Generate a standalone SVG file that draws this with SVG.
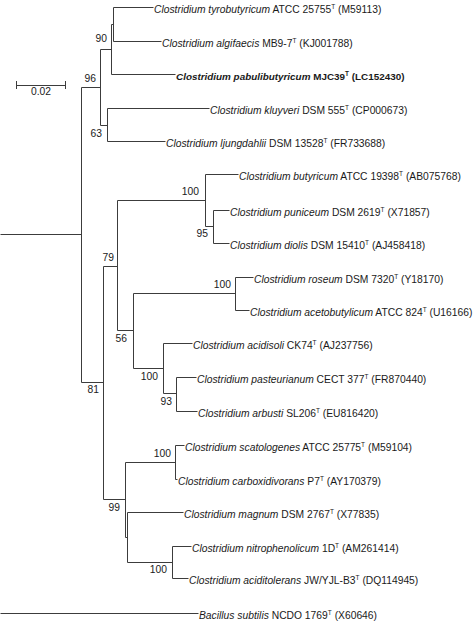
<svg xmlns="http://www.w3.org/2000/svg" width="474" height="621" viewBox="0 0 474 621">
<style>
  .br { fill: none; stroke: #3c3c3c; stroke-width: 1; }
  .lf { font-family: "Liberation Sans", Arial, sans-serif; font-size: 10.3px; fill: #1a1a1a; }
  .sp { font-style: italic; }
  .bold { font-weight: bold; font-size: 9.9px; }
  .bs { font-family: "Liberation Sans", Arial, sans-serif; font-size: 10.3px; fill: #1a1a1a; text-anchor: end; }
  .sup { font-size: 6.5px; }
</style>
<rect width="474" height="621" fill="#ffffff"/>
<g id="connectors" class="br" transform="translate(0.5,0.5)">
  <path d="M0 234H81M0 613H198"/>
  <path d="M81 87V382M81 87H100M100 49V125M100 49H111M111 24V74M111 24H113M113 7V41M113 7H153M113 41H161M111 74H175M100 125H107M107 108V141M107 108H209M107 141H165"/>
  <path d="M81 382H103M103 266V499M103 266H117M117 200V330M117 200H205M205 174V226M205 174H238M205 226H213M213 210V243M213 210H229M213 243H229"/>
  <path d="M117 330H133M133 293V368M133 293H235M235 277V310M235 277H253M235 310H249M133 368H163M163 343V393M163 343H192M163 393H176M176 377V411M176 377H196M176 411H197"/>
  <path d="M103 499H125M125 462V537M125 462H175M175 445V479M175 445H184M175 479H177M125 537H127M127 512V562M127 512H183M127 562H172M172 546V578M172 546H191M172 578H188"/>
</g>
<g id="scale-bar">
  <path class="br" d="M16 85.5H66M16.5 81V89M65.5 81V89"/>
  <text class="lf" x="41" y="95" text-anchor="middle">0.02</text>
</g>
<g id="bootstrap">
  <text class="bs" x="107" y="42">90</text>
  <text class="bs" x="96" y="82">96</text>
  <text class="bs" x="102" y="137">63</text>
  <text class="bs" x="199" y="195">100</text>
  <text class="bs" x="208" y="237">95</text>
  <text class="bs" x="114" y="261">79</text>
  <text class="bs" x="231" y="288">100</text>
  <text class="bs" x="127" y="342">56</text>
  <text class="bs" x="158" y="380">100</text>
  <text class="bs" x="172" y="405">93</text>
  <text class="bs" x="99" y="393">81</text>
  <text class="bs" x="171" y="457">100</text>
  <text class="bs" x="120" y="511">99</text>
  <text class="bs" x="167" y="573">100</text>
</g>
<g id="leaf-tyrobutyricum"><text class="lf" x="154" y="12.8"><tspan class="sp">Clostridium tyrobutyricum</tspan> ATCC 25755<tspan class="sup" dy="-4">T</tspan><tspan dy="4"> (M59113)</tspan></text></g>
<g id="leaf-algifaecis"><text class="lf" x="162" y="46.8"><tspan class="sp">Clostridium algifaecis</tspan> MB9-7<tspan class="sup" dy="-4">T</tspan><tspan dy="4"> (KJ001788)</tspan></text></g>
<g id="leaf-pabulibutyricum"><text class="lf bold" x="176" y="79.8"><tspan class="sp">Clostridium pabulibutyricum</tspan> MJC39<tspan class="sup" dy="-4">T</tspan><tspan dy="4"> (LC152430)</tspan></text></g>
<g id="leaf-kluyveri"><text class="lf" x="210" y="113.8"><tspan class="sp">Clostridium kluyveri</tspan> DSM 555<tspan class="sup" dy="-4">T</tspan><tspan dy="4"> (CP000673)</tspan></text></g>
<g id="leaf-ljungdahlii"><text class="lf" x="166" y="146.8"><tspan class="sp">Clostridium ljungdahlii</tspan> DSM 13528<tspan class="sup" dy="-4">T</tspan><tspan dy="4"> (FR733688)</tspan></text></g>
<g id="leaf-butyricum"><text class="lf" x="239" y="179.8"><tspan class="sp">Clostridium butyricum</tspan> ATCC 19398<tspan class="sup" dy="-4">T</tspan><tspan dy="4"> (AB075768)</tspan></text></g>
<g id="leaf-puniceum"><text class="lf" x="230" y="215.8"><tspan class="sp">Clostridium puniceum</tspan> DSM 2619<tspan class="sup" dy="-4">T</tspan><tspan dy="4"> (X71857)</tspan></text></g>
<g id="leaf-diolis"><text class="lf" x="230" y="248.8"><tspan class="sp">Clostridium diolis</tspan> DSM 15410<tspan class="sup" dy="-4">T</tspan><tspan dy="4"> (AJ458418)</tspan></text></g>
<g id="leaf-roseum"><text class="lf" x="254" y="282.8"><tspan class="sp">Clostridium roseum</tspan> DSM 7320<tspan class="sup" dy="-4">T</tspan><tspan dy="4"> (Y18170)</tspan></text></g>
<g id="leaf-acetobutylicum"><text class="lf" x="250" y="315.8"><tspan class="sp">Clostridium acetobutylicum</tspan> ATCC 824<tspan class="sup" dy="-4">T</tspan><tspan dy="4"> (U16166)</tspan></text></g>
<g id="leaf-acidisoli"><text class="lf" x="193" y="348.8"><tspan class="sp">Clostridium acidisoli</tspan> CK74<tspan class="sup" dy="-4">T</tspan><tspan dy="4"> (AJ237756)</tspan></text></g>
<g id="leaf-pasteurianum"><text class="lf" x="197" y="382.8"><tspan class="sp">Clostridium pasteurianum</tspan> CECT 377<tspan class="sup" dy="-4">T</tspan><tspan dy="4"> (FR870440)</tspan></text></g>
<g id="leaf-arbusti"><text class="lf" x="198" y="416.8"><tspan class="sp">Clostridium arbusti</tspan> SL206<tspan class="sup" dy="-4">T</tspan><tspan dy="4"> (EU816420)</tspan></text></g>
<g id="leaf-scatologenes"><text class="lf" x="185" y="450.8"><tspan class="sp">Clostridium scatologenes</tspan> ATCC 25775<tspan class="sup" dy="-4">T</tspan><tspan dy="4"> (M59104)</tspan></text></g>
<g id="leaf-carboxidivorans"><text class="lf" x="178" y="484.8"><tspan class="sp">Clostridium carboxidivorans</tspan> P7<tspan class="sup" dy="-4">T</tspan><tspan dy="4"> (AY170379)</tspan></text></g>
<g id="leaf-magnum"><text class="lf" x="184" y="517.8"><tspan class="sp">Clostridium magnum</tspan> DSM 2767<tspan class="sup" dy="-4">T</tspan><tspan dy="4"> (X77835)</tspan></text></g>
<g id="leaf-nitrophenolicum"><text class="lf" x="192" y="551.8"><tspan class="sp">Clostridium nitrophenolicum</tspan> 1D<tspan class="sup" dy="-4">T</tspan><tspan dy="4"> (AM261414)</tspan></text></g>
<g id="leaf-aciditolerans"><text class="lf" x="189" y="583.8"><tspan class="sp">Clostridium aciditolerans</tspan> JW/YJL-B3<tspan class="sup" dy="-4">T</tspan><tspan dy="4"> (DQ114945)</tspan></text></g>
<g id="leaf-bacillus"><text class="lf" x="199" y="618.8"><tspan class="sp">Bacillus subtilis</tspan> NCDO 1769<tspan class="sup" dy="-4">T</tspan><tspan dy="4"> (X60646)</tspan></text></g>
</svg>
